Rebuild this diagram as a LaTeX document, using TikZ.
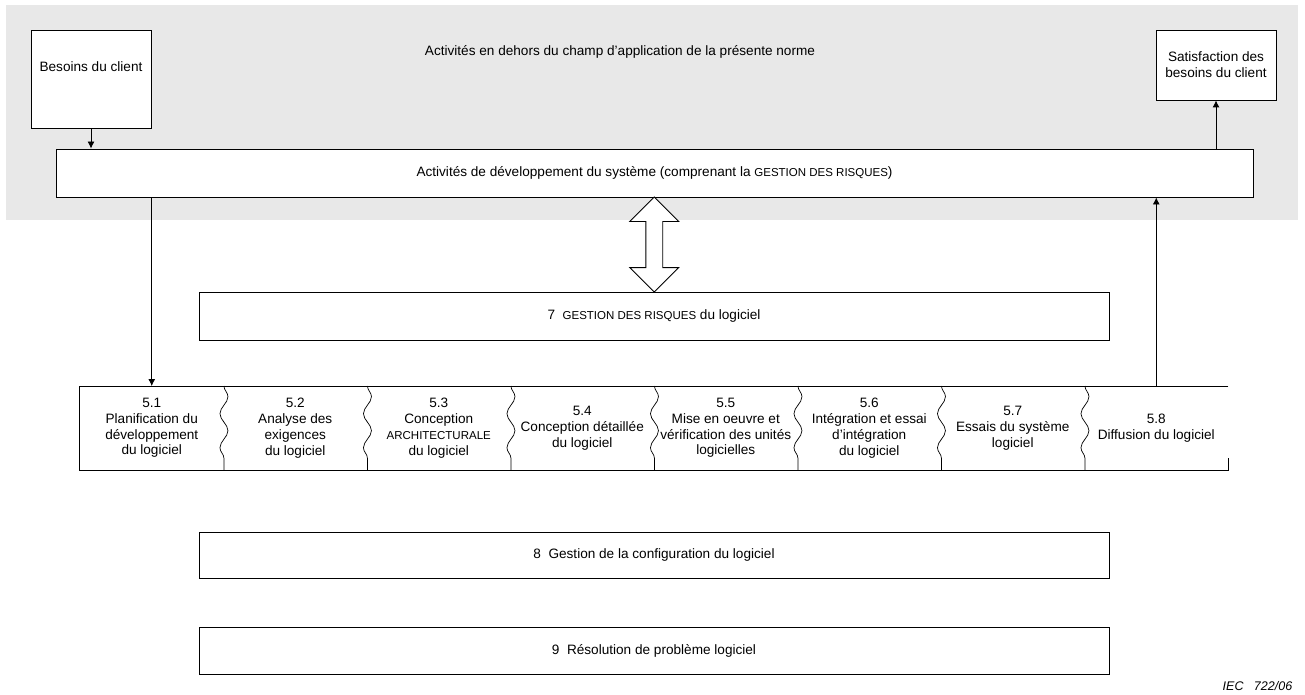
\documentclass[tikz,border=0pt]{standalone}
\usepackage{fontspec}
\setmainfont{Liberation Sans}
\usetikzlibrary{shapes, calc, arrows.meta, positioning, decorations.pathmorphing}
\newcommand{\petitcaps}[1]{{\fontsize{11.5}{13}\selectfont #1}}

\begin{document}
\begin{tikzpicture}[x=1pt, y=-1pt, >={Latex[length=7pt, width=7pt]}, line width=0.9pt, font=\fontsize{13.6}{15.8}\selectfont,
    box/.style={draw, fill=white, align=center, inner sep=0pt},
    stage/.style={minimum width=143.5pt, minimum height=83pt, align=center, inner sep=0pt},
    wavy/.style={decorate, decoration={snake, amplitude=4pt, segment length=34pt}}]
    \useasboundingbox (0,0) rectangle (1305,695);
    \fill[black!9] (6,5) rectangle (1298,220);
    \node (hors) at (620,52) {Activités en dehors du champ d'application de la présente norme};
    \node[box, minimum width=120pt, minimum height=98pt, text depth=25pt] (besoins) at (91,79) {Besoins du client};
    \node[box, minimum width=120pt, minimum height=70pt] (sat) at (1216,65) {Satisfaction des\\besoins du client};
    \node[box, minimum width=1197pt, minimum height=48pt] (dev) at (654.5,173) {Activités de développement du système (comprenant la \petitcaps{GESTION DES RISQUES})};

    \node[box, minimum width=910pt, minimum height=48pt] (risques) at (654,316) {7~~\petitcaps{GESTION DES RISQUES} du logiciel};
    \node[draw, fill=white, double arrow, rotate=90, inner xsep=0pt, inner ysep=8pt, minimum height=95pt, minimum width=48pt,
          double arrow head extend=16pt, double arrow tip angle=90] (lien) at ($(dev.south)!0.5!(risques.north)$) {};

    % etapes du processus de developpement
    \foreach \i/\txt in {1/{5.1\\Planification du\\développement\\du logiciel},
                         2/{5.2\\Analyse des\\exigences\\du logiciel},
                         3/{5.3\\Conception\\\petitcaps{ARCHITECTURALE}\\du logiciel},
                         4/{5.4\\Conception détaillée\\du logiciel},
                         5/{5.5\\Mise en oeuvre et\\vérification des unités\\logicielles},
                         6/{5.6\\Intégration et essai\\d'intégration\\du logiciel},
                         7/{5.7\\Essais du système\\logiciel},
                         8/{5.8\\Diffusion du logiciel}} {
        \node[stage] (s\i) at ({80+143.5*(\i-0.5)},428) {\txt};
    };
    \foreach \i in {1,...,7} {
        \draw[wavy, line width=0.7pt] (s\i.north east) -- (s\i.south east);
    };
    \draw (s8.north east) -- (s1.north west) -- (s1.south west) -- (s8.south east) -- ++(0,-12);

    \node[box, minimum width=910pt, minimum height=46pt] (config) at (654,555) {8~~Gestion de la configuration du logiciel};
    \node[box, minimum width=910pt, minimum height=47pt] (probleme) at (654,650.5) {9~~Résolution de problème logiciel};
    \node[anchor=east, font=\fontsize{12.5}{14}\itshape] (iec) at (1296,686) {IEC~~~722/06};

    \draw[->] (besoins.south) -- (besoins.south |- dev.north);
    \draw[->] (dev.north -| sat) -- (sat.south);
    \draw[->] (dev.south -| s1) -- (s1.north);
    \draw[->] (s8.north) -- (s8.north |- dev.south);
\end{tikzpicture}
\end{document}
